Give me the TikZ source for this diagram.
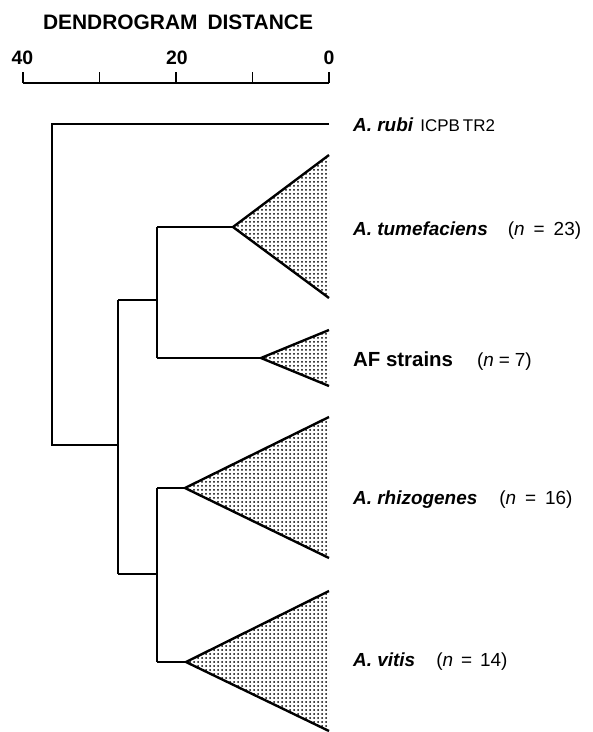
\documentclass[tikz,border=0pt]{standalone}
\usepackage{fontspec}
\setmainfont{Liberation Sans}
\usetikzlibrary{patterns}
\pgfdeclarepatternformonly{dendrodots}{\pgfqpoint{-0.5bp}{-0.5bp}}{\pgfqpoint{4.5bp}{4.5bp}}{\pgfqpoint{4bp}{4bp}}{\pgfpathcircle{\pgfqpoint{2bp}{2bp}}{1bp}\pgfusepath{fill}}
\newcommand{\ncount}[2]{(\textit{n}\hspace{#1}=\hspace{#1}#2)}
\begin{document}
\begin{tikzpicture}[x=1bp,y=-1bp,
  branch/.style={line width=1.7bp},
  edge/.style={line width=2.4bp},
  clade/.style={pattern=dendrodots},
  lab/.style={anchor=base west,inner sep=0pt,font=\fontsize{19}{21}\selectfont},
  num/.style={anchor=base,inner sep=0pt,font=\fontsize{19.5}{21}\selectfont\bfseries},
  tick/.style={line width=1.7bp}]
\useasboundingbox (0,0) rectangle (593,732);

% title and axis
\node[anchor=base,inner sep=0pt,font=\fontsize{21}{23}\selectfont\bfseries] (title) at (178,29.5) {DENDROGRAM\hspace{10bp}DISTANCE};
\node[num] (l40) at (22.5,65) {40};
\node[num] (l20) at (177,65) {20};
\node[num] (l0) at (329,65) {0};
\coordinate (a0) at (23,83);
\coordinate (a1) at (99.5,83);
\coordinate (a2) at (176,83);
\coordinate (a3) at (252.5,83);
\coordinate (a4) at (329,83);
\draw[tick] (a0) -- (a4);
\foreach \t in {a0,a1,a2,a3,a4} \draw[tick] (\t) -- ++(0,-11);

% tree coordinates
\coordinate (rtop) at (52,124);
\coordinate (rbot) at (52,445);
\coordinate (rubiend) at (329,124);
\coordinate (m1) at (118,445);
\coordinate (m1top) at (118,300);
\coordinate (m1bot) at (118,574);
\coordinate (m2) at (157,300);
\coordinate (m2top) at (157,227);
\coordinate (m2bot) at (157,358);
\coordinate (m3) at (157,574);
\coordinate (m3top) at (157,488);
\coordinate (m3bot) at (157,662);
% clade apexes
\coordinate (tumA) at (233,227);  \coordinate (tumT) at (329,155); \coordinate (tumB) at (329,298);
\coordinate (afA) at (261,358);   \coordinate (afT) at (329,330);  \coordinate (afB) at (329,386);
\coordinate (rhA) at (185,488);   \coordinate (rhT) at (329,417);  \coordinate (rhB) at (329,558);
\coordinate (viA) at (186,662);   \coordinate (viT) at (329,591);  \coordinate (viB) at (329,731);

% clades
\fill[clade] (tumA) -- (tumT) -- (tumB) -- cycle;
\fill[clade] (afA) -- (afT) -- (afB) -- cycle;
\fill[clade] (rhA) -- (rhT) -- (rhB) -- cycle;
\fill[clade] (viA) -- (viT) -- (viB) -- cycle;
\draw[edge] (tumT) -- (tumA) -- (tumB);
\draw[edge] (afT) -- (afA) -- (afB);
\draw[edge] (rhT) -- (rhA) -- (rhB);
\draw[edge] (viT) -- (viA) -- (viB);

% branches
\draw[branch] (rubiend) -- (rtop) -- (rbot) -- (m1);
\draw[branch] (m1top) -- (m1bot);
\draw[branch] (m1top) -- (m2);
\draw[branch] (m2top) -- (m2bot);
\draw[branch] (m2top) -- (tumA);
\draw[branch] (m2bot) -- (afA);
\draw[branch] (m1bot) -- (m3);
\draw[branch] (m3top) -- (m3bot);
\draw[branch] (m3top) -- (rhA);
\draw[branch] (m3bot) -- (viA);

% labels
\node[lab] (rubi) at (353,131.5) {\textbf{\textit{A. rubi}}\hspace{7bp}{\fontsize{17}{19}\selectfont ICPB\hspace{3bp}TR2}};
\node[lab] (tum) at (353,235) {\textbf{\textit{A. tumefaciens}}\hspace{20bp}\ncount{9bp}{23}};
\node[lab] (af) at (353,366.5) {{\fontsize{20.5}{22}\selectfont\textbf{AF strains}}\hspace{24bp}\ncount{5bp}{7}};
\node[lab] (rh) at (353,504) {\textbf{\textit{A. rhizogenes}}\hspace{22bp}\ncount{9bp}{16}};
\node[lab] (vi) at (353,666.5) {\textbf{\textit{A. vitis}}\hspace{21bp}\ncount{8bp}{14}};
\end{tikzpicture}
\end{document}
